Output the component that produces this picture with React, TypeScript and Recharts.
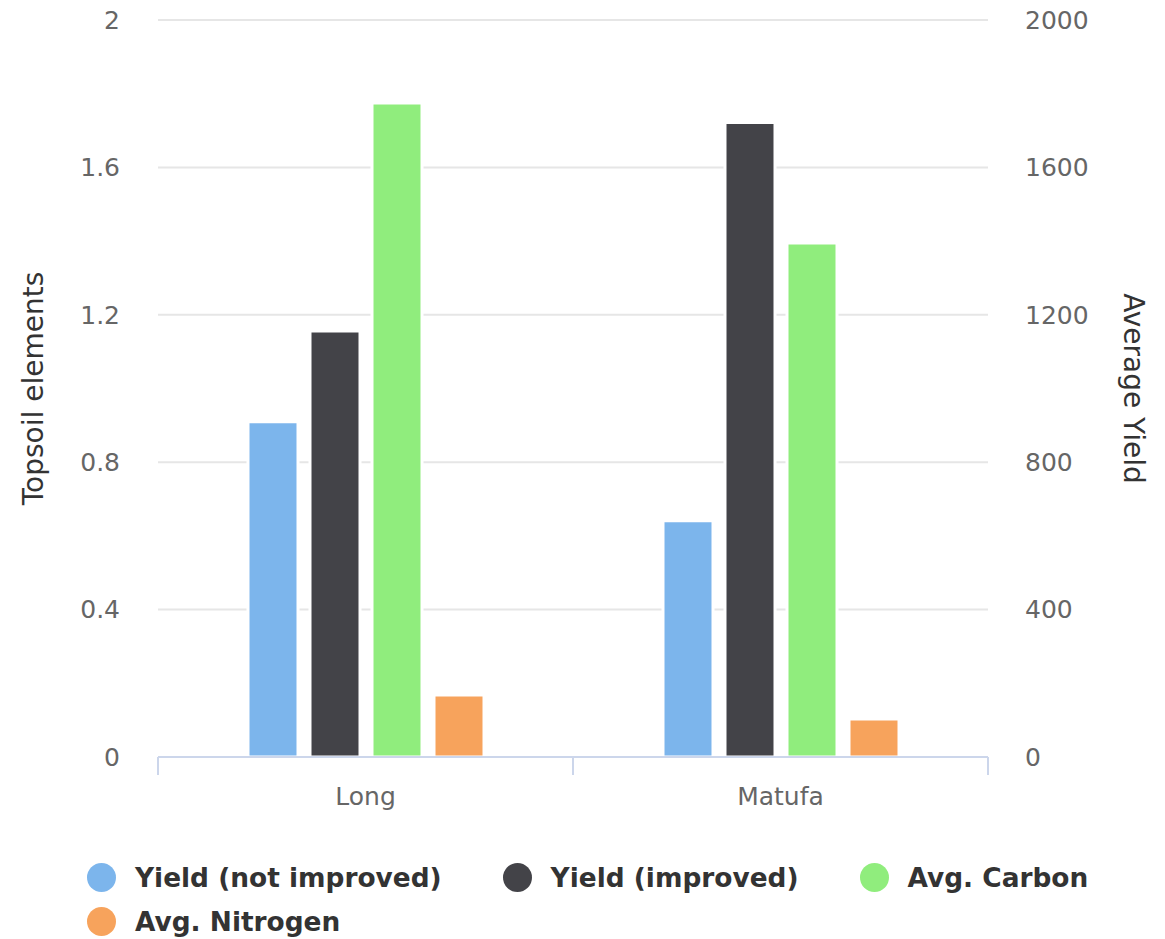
import {
  Bar,
  BarChart,
  CartesianGrid,
  Legend,
  XAxis,
  YAxis,
} from "recharts";

const categories = ["Long", "Matufa"];
const yieldNotImproved = [910, 641];
const yieldImproved = [1156, 1722];
const avgCarbon = [1.775, 1.395];
const avgNitrogen = [0.168, 0.103];

const leftTicks = [0, 0.4, 0.8, 1.2, 1.6, 2];
const rightTicks = [0, 400, 800, 1200, 1600, 2000];

const SERIES = [
  { key: "notImproved", name: "Yield (not improved)", color: "#7cb5ec", axis: "right" },
  { key: "improved", name: "Yield (improved)", color: "#434348", axis: "right" },
  { key: "carbon", name: "Avg. Carbon", color: "#90ed7d", axis: "left" },
  { key: "nitrogen", name: "Avg. Nitrogen", color: "#f7a35c", axis: "left" },
];

const data = categories.map((name, i) => ({
  name,
  notImproved: yieldNotImproved[i],
  improved: yieldImproved[i],
  carbon: avgCarbon[i],
  nitrogen: avgNitrogen[i],
}));

const FONT = '"DejaVu Sans", sans-serif';

function CategoryTick(props: any) {
  const { x, y, payload } = props;
  const half = payload?.offset || 207.5;
  return (
    <g>
      <line x1={x - half} x2={x - half} y1={y} y2={y + 18} stroke="#ccd6eb" strokeWidth={2} />
      <line x1={x + half} x2={x + half} y1={y} y2={y + 18} stroke="#ccd6eb" strokeWidth={2} />
      <text x={x} y={y + 48} textAnchor="middle" fill="#666" fontSize={25} fontFamily={FONT}>
        {payload.value}
      </text>
    </g>
  );
}

function AxisTitle(props: any) {
  const { viewBox, value, side } = props;
  const { x, y, width, height } = viewBox;
  const cy = y + height / 2;
  const cx = side === "left" ? x + 33 : x + 145;
  return (
    <text
      x={cx}
      y={cy}
      textAnchor="middle"
      dominantBaseline="central"
      fill="#333"
      fontSize={28}
      fontFamily={FONT}
      transform={`rotate(${side === "left" ? -90 : 90}, ${cx}, ${cy})`}
    >
      {value}
    </text>
  );
}

function LegendBox() {
  return (
    <div
      style={{
        height: 100,
        boxSizing: "border-box",
        paddingTop: 16,
        paddingLeft: 87,
        width: 1110,
        display: "flex",
        flexWrap: "wrap",
        columnGap: 61,
        fontFamily: FONT,
      }}
    >
      {SERIES.map((s) => (
        <div key={s.key} style={{ display: "flex", alignItems: "center", height: 44 }}>
          <span
            style={{
              width: 29,
              height: 29,
              borderRadius: "50%",
              background: s.color,
              marginRight: 19,
              display: "inline-block",
            }}
          />
          <span style={{ fontSize: 26.4, fontWeight: "bold", color: "#333" }}>{s.name}</span>
        </div>
      ))}
    </div>
  );
}

export default function App() {
  return (
    <div style={{ position: "absolute", left: 0, top: 0, width: 1165, height: 939, background: "#fff", fontFamily: FONT }}>
      <BarChart
        width={1165}
        height={939}
        data={data}
        margin={{ top: 20, right: 0, bottom: 0, left: 0 }}
        barSize={50}
        barGap={12}
      >
        <CartesianGrid yAxisId="left" vertical={false} stroke="#e6e6e6" strokeWidth={2} />
        <XAxis
          dataKey="name"
          height={82}
          tickLine={false}
          tickSize={0}
          tickMargin={0}
          axisLine={{ stroke: "#ccd6eb", strokeWidth: 2 }}
          tick={<CategoryTick />}
          interval={0}
        />
        <YAxis
          yAxisId="left"
          orientation="left"
          width={158}
          domain={[0, 2]}
          ticks={leftTicks}
          tickLine={false}
          axisLine={false}
          tickSize={0}
          tickMargin={38}
          tick={{ fill: "#666", fontSize: 25, fontFamily: FONT }}
          label={(p: any) => <AxisTitle {...p} value="Topsoil elements" side="left" />}
        />
        <YAxis
          yAxisId="right"
          orientation="right"
          width={177}
          domain={[0, 2000]}
          ticks={rightTicks}
          tickLine={false}
          axisLine={false}
          tickSize={0}
          tickMargin={37}
          tick={{ fill: "#666", fontSize: 25, fontFamily: FONT }}
          label={(p: any) => <AxisTitle {...p} value="Average Yield" side="right" />}
        />
        <Legend verticalAlign="bottom" height={100} content={() => <LegendBox />} />
        {SERIES.map((s) => (
          <Bar
            key={s.key}
            dataKey={s.key}
            name={s.name}
            yAxisId={s.axis}
            fill={s.color}
            stroke="#fff"
            strokeWidth={3}
            isAnimationActive={false}
          />
        ))}
      </BarChart>
    </div>
  );
}
